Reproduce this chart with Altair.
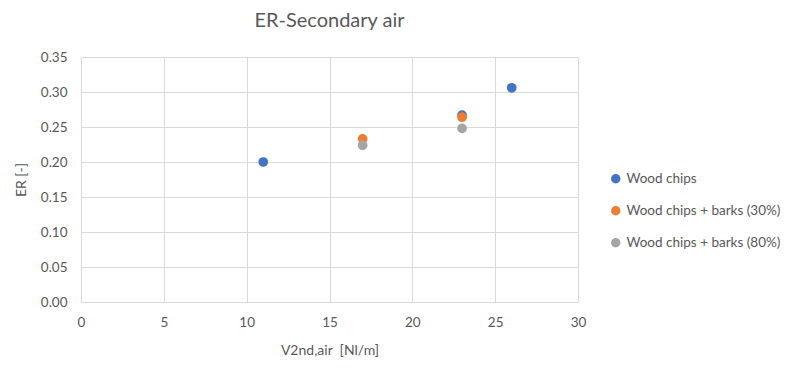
import altair as alt
import pandas as pd

series_names = ["Wood chips", "Wood chips + barks (30%)", "Wood chips + barks (80%)"]
wood_x = [11, 23, 26]
wood_y = [0.200, 0.267, 0.306]
bark30_x = [17, 23]
bark30_y = [0.233, 0.264]
bark80_x = [17, 23]
bark80_y = [0.224, 0.248]
colors = ["#4472C4", "#ED7D31", "#A5A5A5"]

rows = []
for name, xs, ys in zip(series_names, [wood_x, bark30_x, bark80_x], [wood_y, bark30_y, bark80_y]):
    for x, y in zip(xs, ys):
        rows.append({"series": name, "x": x, "y": y})
df = pd.DataFrame(rows)

FONT = "Lato"
TXT = "#595959"

chart = alt.Chart(df).mark_circle(size=95, opacity=1).encode(
    x=alt.X("x:Q", scale=alt.Scale(domain=[0, 30], nice=False),
            axis=alt.Axis(title="V2nd,air\u00a0\u00a0[Nl/m]", values=[0, 5, 10, 15, 20, 25, 30],
                          ticks=False, labelPadding=13, titlePadding=15, labelFlush=False)),
    y=alt.Y("y:Q", scale=alt.Scale(domain=[0, 0.35], nice=False),
            axis=alt.Axis(title="ER [-]", values=[0, 0.05, 0.1, 0.15, 0.2, 0.25, 0.3, 0.35],
                          format=".2f", ticks=False, labelPadding=14, titlePadding=12)),
    color=alt.Color("series:N", sort=series_names,
                    scale=alt.Scale(domain=series_names, range=colors),
                    legend=alt.Legend(title=None, orient="none", legendX=528, legendY=115,
                                      symbolType="circle", symbolSize=90, rowPadding=17,
                                      labelFontSize=13.5, labelColor=TXT, labelFont=FONT,
                                      symbolOpacity=1)),
    order=alt.Order("series:N"),
).properties(
    width=497, height=245,
    title=alt.TitleParams("ER-Secondary air", fontSize=20, font=FONT, color=TXT,
                          fontWeight="normal", anchor="middle", offset=19),
    autosize=alt.AutoSizeParams(type="none"),
    padding={"left": 73, "top": 49, "right": 210, "bottom": 70},
).configure_view(stroke=None).configure_axis(
    gridColor="#D9D9D9", domainColor="#D9D9D9", labelColor=TXT, titleColor=TXT,
    labelFont=FONT, titleFont=FONT, labelFontSize=13.5, titleFontSize=14,
    titleFontWeight="normal", tickColor="#D9D9D9"
)

chart.save("out.html", embed_options={"renderer": "svg", "actions": False})
